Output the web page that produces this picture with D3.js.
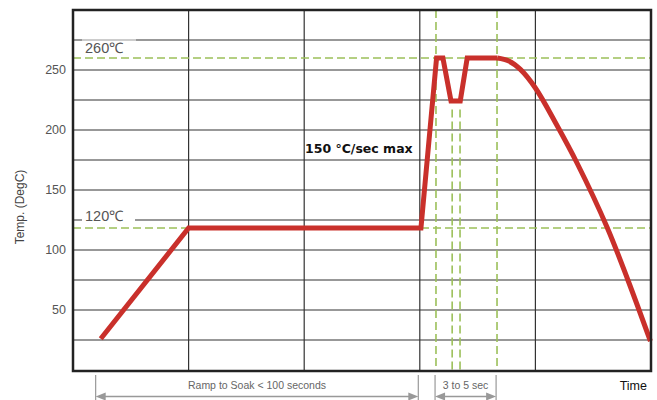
<!DOCTYPE html>
<html><head><meta charset="utf-8">
<script src="https://cdn.jsdelivr.net/npm/d3@7"></script>
<style>body{margin:0;background:#fff}svg{display:block}</style>
</head><body>
<svg id="c" width="657" height="400"></svg>
<script>
// ---- data ----
const yTicks = [50, 100, 150, 200, 250];
const yGrid = [25, 50, 75, 100, 125, 150, 175, 200, 225, 250, 275];
const xGrid = [100, 200, 300, 400];
const profileX = [24, 100, 301, 314.5, 320, 327, 335, 341, 367, 377, 387, 400, 418, 436, 462, 480, 499.5];
const profileY = [26, 118.3, 118.3, 260, 260, 224.2, 224.2, 260, 260, 257.5, 250.5, 235, 205, 172.5, 119, 75, 24];
const refTemps = [260, 118.3];
const refTempLabels = ["260\u2103", "120\u2103"];
const vDashFull = [314, 366.8];
const vDashPartial = [328, 334.8];
const spanLabels = ["Ramp to Soak < 100 seconds", "3 to 5 sec"];
const spanStart = [19.6, 313.2];
const spanEnd = [298.7, 366];

// ---- scales ----
const svg = d3.select("#c");
const L = 73, R = 651, T = 10, B = 370;
const x = d3.scaleLinear().domain([0, 500]).range([L, R]);
const y = d3.scaleLinear().domain([0, 300]).range([B, T]);
const green = "#9cc05a", gridC = "#333";

// gridlines
svg.append("g").selectAll("line").data(yGrid).join("line")
  .attr("x1", L).attr("x2", R).attr("y1", d => y(d)).attr("y2", d => y(d))
  .attr("stroke", gridC).attr("stroke-width", 1.2);
svg.append("g").selectAll("line").data(xGrid).join("line")
  .attr("y1", T).attr("y2", B).attr("x1", d => x(d)).attr("x2", d => x(d))
  .attr("stroke", gridC).attr("stroke-width", 1.2);

// label backgrounds
svg.append("rect").attr("x", 82).attr("y", y(125) - 6).attr("width", 53).attr("height", 10).attr("fill", "#fff");
svg.append("rect").attr("x", 82).attr("y", y(275) - 2).attr("width", 54).attr("height", 4).attr("fill", "#fff").attr("opacity", 0.5);

// dashed reference lines
svg.append("g").selectAll("line").data(refTemps).join("line")
  .attr("x1", L).attr("x2", R).attr("y1", d => y(d)).attr("y2", d => y(d))
  .attr("stroke", green).attr("stroke-width", 1.6).attr("stroke-dasharray", "8,4");
svg.append("g").selectAll("line").data(vDashFull).join("line")
  .attr("y1", T).attr("y2", B).attr("x1", d => x(d)).attr("x2", d => x(d))
  .attr("stroke", green).attr("stroke-width", 1.6).attr("stroke-dasharray", "8,4");
svg.append("g").selectAll("line").data(vDashPartial).join("line")
  .attr("y1", y(217)).attr("y2", B).attr("x1", d => x(d)).attr("x2", d => x(d))
  .attr("stroke", green).attr("stroke-width", 1.6).attr("stroke-dasharray", "8,4");

// ref labels
svg.append("g").selectAll("text").data(refTempLabels).join("text")
  .attr("x", 85).attr("y", (d, i) => i === 0 ? 53 : 221)
  .attr("font-family", "Liberation Sans, Arial, sans-serif").attr("font-size", 14.5)
  .attr("fill", "#555").text(d => d);

// profile line
const pts = profileX.map((d, i) => [d, profileY[i]]);
const curveIdx = 8;
svg.append("path")
  .attr("d", d3.line().x(d => x(d[0])).y(d => y(d[1])).curve(d3.curveLinear)(pts.slice(0, curveIdx + 1)))
  .attr("fill", "none").attr("stroke", "#c9302b").attr("stroke-width", 5).attr("stroke-linejoin", "miter");
svg.append("path")
  .attr("d", d3.line().x(d => x(d[0])).y(d => y(d[1])).curve(d3.curveCatmullRom.alpha(0.5))(pts.slice(curveIdx)))
  .attr("fill", "none").attr("stroke", "#c9302b").attr("stroke-width", 5);

// frame
svg.append("rect").attr("x", L).attr("y", T).attr("width", R - L).attr("height", B - T + 1)
  .attr("fill", "none").attr("stroke", "#222").attr("stroke-width", 2.5);

// y axis labels
svg.append("g").selectAll("text").data(yTicks).join("text")
  .attr("x", 66).attr("y", d => y(d)).attr("dy", "0.35em").attr("text-anchor", "end")
  .attr("font-family", "Liberation Sans, Arial, sans-serif").attr("font-size", 12.5)
  .attr("fill", "#555").text(d => d);
svg.append("text").attr("transform", `translate(24,207) rotate(-90)`)
  .attr("text-anchor", "middle").attr("font-family", "Liberation Sans, Arial, sans-serif")
  .attr("font-size", 12).attr("fill", "#444").text("Temp. (DegC)");

// annotation
svg.append("text").attr("x", 305).attr("y", 153)
  .attr("font-family", "DejaVu Sans, sans-serif").attr("font-weight", "bold")
  .attr("font-size", 12.5).attr("fill", "#111").text("150 \u00b0C/sec max");

// spans
const sp = svg.append("g");
spanLabels.forEach((lab, i) => {
  const a = x(spanStart[i]), b = x(spanEnd[i]);
  sp.append("line").attr("x1", a).attr("x2", a).attr("y1", 375).attr("y2", 400).attr("stroke", "#999").attr("stroke-width", 1.2);
  sp.append("line").attr("x1", b).attr("x2", b).attr("y1", 375).attr("y2", 400).attr("stroke", "#999").attr("stroke-width", 1.2);
  sp.append("line").attr("x1", a + 6).attr("x2", b - 6).attr("y1", 396.5).attr("y2", 396.5).attr("stroke", "#999").attr("stroke-width", 1.5);
  sp.append("path").attr("d", `M${a},396.5 L${a + 10},392.5 L${a + 10},400.5 Z`).attr("fill", "#999");
  sp.append("path").attr("d", `M${b},396.5 L${b - 10},392.5 L${b - 10},400.5 Z`).attr("fill", "#999");
  sp.append("text").attr("x", (a + b) / 2).attr("y", 389).attr("text-anchor", "middle")
    .attr("font-family", "Liberation Sans, Arial, sans-serif").attr("font-size", 10.5)
    .attr("fill", "#666").text(lab);
});
svg.append("text").attr("x", 647).attr("y", 390).attr("text-anchor", "end")
  .attr("font-family", "Liberation Sans, Arial, sans-serif").attr("font-size", 12.5)
  .attr("fill", "#111").text("Time");
</script>
</body></html>
